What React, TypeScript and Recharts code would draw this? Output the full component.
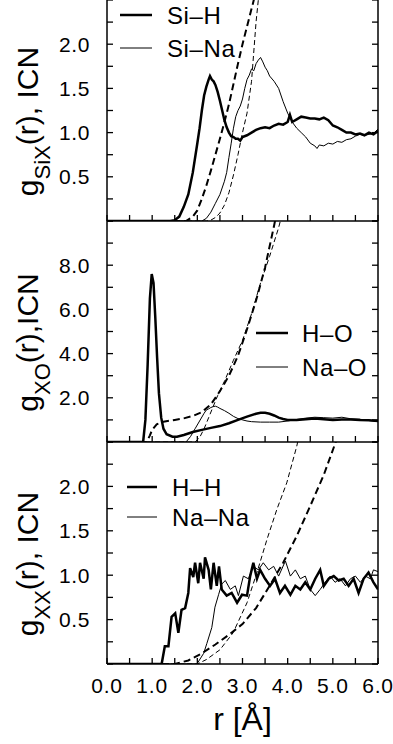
import React from 'react';
import { LineChart, Line, XAxis, YAxis, Legend } from 'recharts';

const FONT = '"Liberation Sans", Arial, Helvetica, sans-serif';

// ---------- axes ----------
const X_TICKS = [0, 0.5, 1, 1.5, 2, 2.5, 3, 3.5, 4, 4.5, 5, 5.5, 6];
const X_LABELED = [0, 1, 2, 3, 4, 5, 6];
const X_TITLE = 'r [Å]';

const Y1_TICKS = [0, 0.25, 0.5, 0.75, 1, 1.25, 1.5, 1.75, 2, 2.25, 2.5];
const Y1_LABELED = [0.5, 1, 1.5, 2];
const Y2_TICKS = [0, 1, 2, 3, 4, 5, 6, 7, 8, 9, 10];
const Y2_LABELED = [2, 4, 6, 8];
const Y3_TICKS = Y1_TICKS;
const Y3_LABELED = Y1_LABELED;

// ---------- panel 1 : Si-X ----------
const SIH_G_R = [0, 1.4, 1.5, 1.6, 1.7, 1.8, 1.9, 2.0, 2.05, 2.1, 2.15, 2.2, 2.25, 2.28, 2.32, 2.36, 2.4, 2.45, 2.5, 2.55, 2.6, 2.65, 2.7, 2.75, 2.8, 2.85, 2.9, 2.95, 3.0, 3.1, 3.2, 3.3, 3.4, 3.5, 3.6, 3.7, 3.8, 3.9, 4.0, 4.05, 4.1, 4.2, 4.3, 4.4, 4.5, 4.6, 4.7, 4.8, 4.9, 5.0, 5.1, 5.2, 5.3, 5.4, 5.5, 5.6, 5.7, 5.8, 5.9, 6.0];
const SIH_G = [0, 0, 0.01, 0.05, 0.16, 0.3, 0.55, 0.88, 1.05, 1.25, 1.42, 1.52, 1.6, 1.64, 1.6, 1.58, 1.54, 1.46, 1.36, 1.25, 1.14, 1.06, 1.0, 0.96, 0.95, 0.93, 0.93, 0.91, 0.95, 0.97, 1.0, 1.03, 1.05, 1.06, 1.05, 1.08, 1.1, 1.09, 1.12, 1.2, 1.12, 1.15, 1.18, 1.17, 1.16, 1.16, 1.15, 1.17, 1.14, 1.08, 1.06, 1.03, 1.0, 1.0, 0.98, 0.99, 0.97, 1.0, 0.98, 1.02];
const SINA_G_R = [0, 2.1, 2.2, 2.3, 2.4, 2.5, 2.6, 2.65, 2.7, 2.75, 2.8, 2.85, 2.9, 2.95, 3.0, 3.05, 3.1, 3.15, 3.2, 3.25, 3.3, 3.35, 3.4, 3.45, 3.5, 3.55, 3.6, 3.7, 3.8, 3.9, 4.0, 4.1, 4.2, 4.3, 4.4, 4.5, 4.6, 4.65, 4.7, 4.8, 4.9, 5.0, 5.1, 5.2, 5.3, 5.4, 5.5, 5.6, 5.7, 5.8, 5.9, 6.0];
const SINA_G = [0, 0, 0.03, 0.1, 0.2, 0.3, 0.45, 0.55, 0.72, 0.88, 1.05, 1.18, 1.25, 1.3, 1.38, 1.5, 1.6, 1.65, 1.72, 1.7, 1.78, 1.82, 1.85, 1.8, 1.74, 1.7, 1.64, 1.58, 1.5, 1.35, 1.22, 1.12, 1.05, 1.0, 0.95, 0.88, 0.85, 0.82, 0.86, 0.85, 0.88, 0.87, 0.9, 0.89, 0.92, 0.93, 0.96, 0.98, 0.97, 0.98, 0.99, 1.04];
const SIH_N_R = [0, 1.75, 1.9, 2.0, 2.1, 2.2, 2.3, 2.4, 2.5, 2.6, 2.7, 2.8, 2.9, 3.0, 3.1, 3.2, 3.3, 3.4];
const SIH_N = [0, 0, 0.05, 0.12, 0.25, 0.4, 0.57, 0.75, 0.93, 1.12, 1.32, 1.55, 1.78, 2.0, 2.2, 2.4, 2.6, 2.85];
const SINA_N_R = [0, 2.2, 2.3, 2.4, 2.5, 2.6, 2.7, 2.8, 2.9, 3.0, 3.1, 3.2, 3.3, 3.4, 3.5];
const SINA_N = [0, 0, 0.01, 0.04, 0.09, 0.18, 0.32, 0.52, 0.75, 1.0, 1.22, 1.58, 2.25, 2.75, 3.2];

// ---------- panel 2 : X-O ----------
const HO_G_R = [0, 0.8, 0.85, 0.9, 0.95, 0.99, 1.03, 1.07, 1.11, 1.15, 1.2, 1.25, 1.32, 1.45, 1.55, 1.7, 1.9, 2.1, 2.3, 2.5, 2.7, 2.9, 3.1, 3.3, 3.4, 3.5, 3.6, 3.7, 3.8, 3.9, 4.0, 4.2, 4.4, 4.6, 4.8, 5.0, 5.2, 5.4, 5.6, 5.8, 6.0];
const HO_G = [0, 0, 1.0, 3.5, 6.5, 7.6, 7.2, 5.6, 3.8, 2.2, 1.1, 0.6, 0.35, 0.24, 0.24, 0.32, 0.45, 0.55, 0.64, 0.72, 0.85, 1.0, 1.15, 1.28, 1.32, 1.32, 1.28, 1.2, 1.1, 1.04, 1.0, 1.0, 1.03, 1.06, 1.03, 1.0, 1.02, 1.02, 0.99, 0.98, 0.95];
const NAO_G_R = [0, 1.75, 1.85, 1.95, 2.05, 2.15, 2.2, 2.25, 2.3, 2.35, 2.4, 2.45, 2.5, 2.6, 2.7, 2.8, 2.9, 3.0, 3.1, 3.2, 3.4, 3.6, 3.8, 4.0, 4.2, 4.4, 4.6, 4.8, 5.0, 5.2, 5.4, 5.6, 5.8, 6.0];
const NAO_G = [0, 0, 0.25, 0.6, 0.95, 1.3, 1.45, 1.5, 1.56, 1.6, 1.62, 1.58, 1.52, 1.42, 1.3, 1.16, 1.06, 1.0, 0.95, 0.92, 0.9, 0.9, 0.9, 0.95, 1.02, 1.08, 1.12, 1.1, 1.08, 1.12, 1.05, 1.03, 0.97, 0.92];
const HO_N_R = [0, 0.88, 0.95, 1.0, 1.1, 1.25, 1.5, 1.7, 1.9, 2.1, 2.3, 2.5, 2.7, 2.9, 3.1, 3.3, 3.5, 3.7, 3.8];
const HO_N = [0, 0, 0.3, 0.55, 0.8, 0.92, 1.0, 1.07, 1.18, 1.35, 1.7, 2.3, 3.0, 3.9, 5.1, 6.4, 7.9, 9.8, 10.8];
const NAO_N_R = [0, 1.95, 2.05, 2.15, 2.25, 2.35, 2.45, 2.6, 2.8, 3.0, 3.2, 3.4, 3.6, 3.8, 3.9];
const NAO_N = [0, 0, 0.2, 0.6, 1.1, 1.6, 2.1, 2.75, 3.7, 4.6, 5.8, 7.2, 8.4, 9.7, 10.5];

// ---------- panel 3 : X-X ----------
const HH_G_R = [0, 1.21, 1.28, 1.36, 1.43, 1.51, 1.58, 1.65, 1.73, 1.8, 1.84, 1.91, 1.95, 2.02, 2.06, 2.14, 2.17, 2.25, 2.3, 2.36, 2.43, 2.48, 2.54, 2.65, 2.76, 2.88, 2.99, 3.1, 3.17, 3.24, 3.32, 3.39, 3.5, 3.61, 3.72, 3.83, 3.94, 4.06, 4.17, 4.28, 4.39, 4.5, 4.61, 4.72, 4.8, 4.91, 5.02, 5.13, 5.24, 5.35, 5.46, 5.57, 5.68, 5.79, 5.9, 6.0];
const HH_G = [0, 0, 0.2, 0.2, 0.53, 0.57, 0.35, 0.61, 0.63, 0.8, 1.08, 0.98, 1.14, 0.91, 1.14, 0.96, 1.2, 1.06, 0.84, 1.14, 0.88, 1.1, 0.84, 0.77, 0.8, 0.69, 0.78, 0.77, 0.99, 1.14, 0.96, 1.06, 0.96, 0.88, 0.96, 0.8, 0.88, 0.78, 0.88, 0.84, 0.92, 0.84, 0.96, 1.06, 0.88, 0.96, 0.99, 0.94, 0.96, 0.88, 0.96, 0.8, 0.96, 1.03, 0.92, 0.84];
const NANA_G_R = [0, 1.99, 2.14, 2.21, 2.32, 2.39, 2.47, 2.54, 2.62, 2.73, 2.84, 2.91, 3.02, 3.13, 3.24, 3.35, 3.46, 3.58, 3.69, 3.8, 3.95, 4.06, 4.17, 4.28, 4.39, 4.5, 4.61, 4.72, 4.83, 4.94, 5.05, 5.16, 5.28, 5.39, 5.5, 5.61, 5.72, 5.83, 5.9, 6.0];
const NANA_G = [0, 0, 0.12, 0.23, 0.41, 0.64, 0.78, 0.9, 0.94, 0.84, 0.88, 0.77, 0.99, 0.96, 1.1, 1.06, 1.14, 1.06, 1.1, 0.99, 1.16, 0.99, 1.06, 0.96, 0.99, 0.84, 0.77, 0.84, 0.92, 0.99, 0.92, 0.96, 0.88, 0.96, 0.99, 0.92, 0.99, 0.96, 1.06, 1.04];
const HH_N_R = [0, 1.5, 1.8, 2.1, 2.4, 2.7, 3.0, 3.3, 3.6, 3.9, 4.2, 4.5, 4.8, 5.1, 5.3];
const HH_N = [0, 0, 0.04, 0.12, 0.22, 0.33, 0.45, 0.63, 0.88, 1.14, 1.44, 1.78, 2.13, 2.55, 2.85];
const NANA_N_R = [0, 2.0, 2.2, 2.5, 2.79, 3.1, 3.32, 3.54, 3.76, 3.98, 4.2, 4.35];
const NANA_N = [0, 0, 0.05, 0.16, 0.35, 0.69, 1.03, 1.4, 1.74, 2.04, 2.45, 2.8];

// ---------- legends / labels ----------
const LEGEND1 = ['Si–H', 'Si–Na'];
const LEGEND2 = ['H–O', 'Na–O'];
const LEGEND3 = ['H–H', 'Na–Na'];
const YLABEL1 = { sub: 'SiX', rest: '(r), ICN' };
const YLABEL2 = { sub: 'XO', rest: '(r),ICN' };
const YLABEL3 = { sub: 'XX', rest: '(r), ICN' };

const pts = (r: number[], v: number[]) => r.map((x, i) => ({ r: x, v: v[i] }));

type Series = { data: { r: number; v: number }[]; thick: boolean; dashed: boolean; name: string };

const fmt = (v: number) => v.toFixed(1);

const makeLeftTick = (labeled: number[]) => (props: any) => {
  const { x, y, payload } = props;
  const show = labeled.includes(payload.value);
  return (
    <g>
      <line x1={x} x2={x + 6} y1={y} y2={y} stroke="#000" strokeWidth={1.3} />
      {show && (
        <text x={x - 17} y={y + 7.5} textAnchor="end" fontSize={21} letterSpacing={0.6} fontFamily={FONT} fill="#000">
          {fmt(payload.value)}
        </text>
      )}
    </g>
  );
};

const rightTick = (props: any) => {
  const { x, y } = props;
  return <line x1={x} x2={x - 6} y1={y} y2={y} stroke="#000" strokeWidth={1.3} />;
};

const makeBottomTick = (showLabels: boolean) => (props: any) => {
  const { x, y, payload } = props;
  const show = showLabels && X_LABELED.includes(payload.value);
  return (
    <g>
      <line x1={x} x2={x} y1={y} y2={y - 6} stroke="#000" strokeWidth={1.3} />
      {show && (
        <text x={x} y={y + 28.5} textAnchor="middle" fontSize={21} letterSpacing={0.8} fontFamily={FONT} fill="#000">
          {fmt(payload.value)}
        </text>
      )}
    </g>
  );
};

const makeYLabel = (lab: { sub: string; rest: string }) => (props: any) => {
  const vb = props.viewBox || { x: 0, y: 0, width: 107, height: 221 };
  const cx = vb.x + 38;
  const cy = vb.y + vb.height / 2 + 11;
  return (
    <text
      x={cx}
      y={cy}
      transform={`rotate(-90 ${cx} ${cy})`}
      textAnchor="middle"
      fontSize={30}
      fontFamily={FONT}
      fill="#000"
    >
      g
      <tspan fontSize={22} dy={12}>{lab.sub}</tspan>
      <tspan dy={-12}>{lab.rest}</tspan>
    </text>
  );
};

const xTitle = (props: any) => {
  const vb = props.viewBox || { x: 107, y: 664, width: 271, height: 80 };
  return (
    <text x={vb.x + vb.width / 2} y={vb.y + 66} textAnchor="middle" fontSize={32} fontFamily={FONT} fill="#000">
      {X_TITLE}
    </text>
  );
};

type LegendPos = { x1: number; x2: number; tx: number; ys: number[] };

const makeLegend = (names: string[], pos: LegendPos, h: number) => () => (
  <svg width={393} height={h} style={{ display: 'block' }}>
    {names.map((n, i) => (
      <g key={n}>
        <line
          x1={pos.x1}
          x2={pos.x2}
          y1={pos.ys[i]}
          y2={pos.ys[i]}
          stroke="#000"
          strokeWidth={i === 0 ? 2.5 : 1}
        />
        <text x={pos.tx} y={pos.ys[i] + 8.5} fontSize={24} letterSpacing={0.6} fontFamily={FONT} fill="#000">
          {n}
        </text>
      </g>
    ))}
  </svg>
);

type PanelProps = {
  top: number;
  height: number;
  marginTop: number;
  xAxisHeight: number;
  yDomain: [number, number];
  yTicks: number[];
  yLabeled: number[];
  series: Series[];
  legend: string[];
  legendPos: LegendPos;
  yLabel: { sub: string; rest: string };
  showX: boolean;
};

const Panel = (p: PanelProps) => (
  <div style={{ position: 'absolute', left: 0, top: p.top, width: 393, height: p.height }}>
    <LineChart
      width={393}
      height={p.height}
      margin={{ top: p.marginTop, right: 0, bottom: 0, left: 0 }}
    >
      <XAxis
        xAxisId="b"
        dataKey="r"
        type="number"
        domain={[0, 6]}
        ticks={X_TICKS}
        interval={0}
        allowDataOverflow
        height={p.xAxisHeight}
        tickSize={0}
        tickMargin={0}
        tickLine={false}
        axisLine={{ stroke: '#000', strokeWidth: 1.5 }}
        tick={makeBottomTick(p.showX)}
        label={p.showX ? xTitle : undefined}
      />
      <YAxis
        yAxisId="left"
        orientation="left"
        type="number"
        domain={p.yDomain}
        ticks={p.yTicks}
        interval={0}
        allowDataOverflow
        width={107}
        tickSize={0}
        tickMargin={0}
        tickLine={false}
        axisLine={{ stroke: '#000', strokeWidth: 1.5 }}
        tick={makeLeftTick(p.yLabeled)}
        label={makeYLabel(p.yLabel)}
      />
      <YAxis
        yAxisId="right"
        orientation="right"
        type="number"
        domain={p.yDomain}
        ticks={p.yTicks}
        interval={0}
        allowDataOverflow
        width={15}
        tickSize={0}
        tickMargin={0}
        tickLine={false}
        axisLine={{ stroke: '#000', strokeWidth: 1.5 }}
        tick={rightTick}
      />
      <Legend
        layout="vertical"
        align="center"
        verticalAlign="middle"
        wrapperStyle={{ position: 'absolute', left: 0, top: 0, width: 393, height: p.height, margin: 0, pointerEvents: 'none' }}
        content={makeLegend(p.legend, p.legendPos, p.height)}
      />
      {p.series.map((s) => (
        <Line
          key={s.name}
          name={s.name}
          xAxisId="b"
          yAxisId="left"
          data={s.data}
          dataKey="v"
          type="linear"
          stroke="#000"
          strokeWidth={s.thick ? (s.dashed ? 2 : 2.5) : 1}
          strokeDasharray={s.dashed ? (s.thick ? '7 4' : '5 3') : undefined}
          dot={false}
          activeDot={false}
          legendType="none"
          isAnimationActive={false}
        />
      ))}
    </LineChart>
  </div>
);

export default function App() {
  const s1: Series[] = [
    { name: 'sih_n', data: pts(SIH_N_R, SIH_N), thick: true, dashed: true },
    { name: 'sina_n', data: pts(SINA_N_R, SINA_N), thick: false, dashed: true },
    { name: 'sina_g', data: pts(SINA_G_R, SINA_G), thick: false, dashed: false },
    { name: 'sih_g', data: pts(SIH_G_R, SIH_G), thick: true, dashed: false },
  ];
  const s2: Series[] = [
    { name: 'ho_n', data: pts(HO_N_R, HO_N), thick: true, dashed: true },
    { name: 'nao_n', data: pts(NAO_N_R, NAO_N), thick: false, dashed: true },
    { name: 'nao_g', data: pts(NAO_G_R, NAO_G), thick: false, dashed: false },
    { name: 'ho_g', data: pts(HO_G_R, HO_G), thick: true, dashed: false },
  ];
  const s3: Series[] = [
    { name: 'hh_n', data: pts(HH_N_R, HH_N), thick: true, dashed: true },
    { name: 'nana_n', data: pts(NANA_N_R, NANA_N), thick: false, dashed: true },
    { name: 'nana_g', data: pts(NANA_G_R, NANA_G), thick: false, dashed: false },
    { name: 'hh_g', data: pts(HH_G_R, HH_G), thick: true, dashed: false },
  ];
  return (
    <div style={{ position: 'absolute', left: 0, top: 0, width: 393, height: 744, background: '#fff' }}>
      <Panel
        top={0}
        height={230}
        marginTop={0}
        xAxisHeight={9}
        yDomain={[0, 2.5]}
        yTicks={Y1_TICKS}
        yLabeled={Y1_LABELED}
        series={s1}
        legend={LEGEND1}
        legendPos={{ x1: 120, x2: 152, tx: 167, ys: [15, 48] }}
        yLabel={YLABEL1}
        showX={false}
      />
      <Panel
        top={212}
        height={239}
        marginTop={9}
        xAxisHeight={9}
        yDomain={[0, 10]}
        yTicks={Y2_TICKS}
        yLabeled={Y2_LABELED}
        series={s2}
        legend={LEGEND2}
        legendPos={{ x1: 256, x2: 288, tx: 302, ys: [121, 155] }}
        yLabel={YLABEL2}
        showX={false}
      />
      <Panel
        top={433}
        height={311}
        marginTop={9}
        xAxisHeight={80}
        yDomain={[0, 2.5]}
        yTicks={Y3_TICKS}
        yLabeled={Y3_LABELED}
        series={s3}
        legend={LEGEND3}
        legendPos={{ x1: 127, x2: 157, tx: 172, ys: [54, 84] }}
        yLabel={YLABEL3}
        showX={true}
      />
    </div>
  );
}
